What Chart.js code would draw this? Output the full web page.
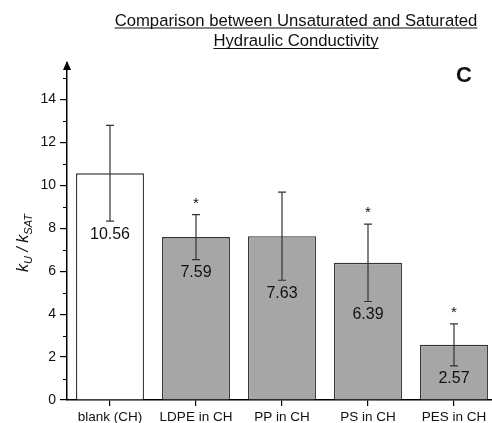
<!DOCTYPE html>
<html>
<head>
<meta charset="utf-8">
<script src="https://cdn.jsdelivr.net/npm/chart.js@4/dist/chart.umd.min.js"></script>
<style>
  html, body { margin: 0; padding: 0; background: #fff; overflow: hidden; }
  #wrap { width: 500px; height: 423px; }
</style>
</head>
<body>
<div id="wrap"><canvas id="chart" width="500" height="423"></canvas></div>
<script>
// ─── Data ─────────────────────────────────────────────────────────────────────
const categories = ['blank (CH)', 'LDPE in CH', 'PP in CH', 'PS in CH', 'PES in CH'];
const ratios = [10.56, 7.59, 7.63, 6.39, 2.57];
const errors = [2.23, 1.05, 2.05, 1.80, 0.98];
const significant = [false, true, false, true, true];
const yTicks = [0, 2, 4, 6, 8, 10, 12, 14];
const yMinorTicks = [1, 3, 5, 7, 9, 11, 13, 15];

const FONT = 'Arial, "Liberation Sans", sans-serif';
const INK = '#111';

// ─── Error bars, value labels, asterisks ──────────────────────────────────────
const barExtras = {
  id: 'barExtras',
  afterDatasetsDraw(chart) {
    const ctx = chart.ctx;
    const x = chart.scales.x, y = chart.scales.y;
    ctx.save();
    ratios.forEach((v, i) => {
      const cx = x.getPixelForValue(i);
      const hi = y.getPixelForValue(v + errors[i]);
      const lo = y.getPixelForValue(v - errors[i]);
      ctx.strokeStyle = '#333';
      ctx.lineWidth = 1.2;
      ctx.beginPath();
      ctx.moveTo(cx, hi); ctx.lineTo(cx, lo);
      ctx.moveTo(cx - 4, hi); ctx.lineTo(cx + 4, hi);
      ctx.moveTo(cx - 4, lo); ctx.lineTo(cx + 4, lo);
      ctx.stroke();

      ctx.fillStyle = INK;
      ctx.textAlign = 'center';
      ctx.textBaseline = 'middle';
      ctx.font = '16px ' + FONT;
      ctx.fillText(v.toFixed(2), cx, lo + 13);

      if (significant[i]) {
        ctx.textBaseline = 'alphabetic';
        ctx.font = '15px ' + FONT;
        ctx.fillText('*', cx, hi - 7);
      }
    });
    ctx.restore();
  }
};

// ─── Axis decorations: minor ticks, arrow, titles ─────────────────────────────
const decorations = {
  id: 'decorations',
  afterDraw(chart) {
    const ctx = chart.ctx;
    const y = chart.scales.y;
    const area = chart.chartArea;
    const ax = area.left;
    ctx.save();
    ctx.strokeStyle = '#000';
    ctx.lineWidth = 1.2;
    ctx.beginPath();
    yMinorTicks.forEach(v => {
      const py = Math.round(y.getPixelForValue(v)) + 0.5;
      ctx.moveTo(ax - 4, py); ctx.lineTo(ax, py);
    });
    ctx.stroke();

    // arrow on top of the y axis
    ctx.fillStyle = '#000';
    ctx.beginPath();
    ctx.moveTo(ax, area.top - 2);
    ctx.lineTo(ax - 4, area.top + 7);
    ctx.lineTo(ax + 4, area.top + 7);
    ctx.closePath();
    ctx.fill();

    // title, underlined
    ctx.fillStyle = INK;
    ctx.strokeStyle = INK;
    ctx.lineWidth = 1;
    ctx.font = '16.7px ' + FONT;
    ctx.textAlign = 'center';
    ctx.textBaseline = 'alphabetic';
    [['Comparison between Unsaturated and Saturated', 25.5], ['Hydraulic Conductivity', 46]].forEach(([t, by]) => {
      ctx.fillText(t, 296, by);
      const w = ctx.measureText(t).width;
      ctx.beginPath();
      ctx.moveTo(296 - w / 2, by + 2.5); ctx.lineTo(296 + w / 2, by + 2.5);
      ctx.stroke();
    });

    // panel letter
    ctx.font = 'bold 22px ' + FONT;
    ctx.textBaseline = 'middle';
    ctx.fillText('C', 464, 76);

    // y axis title: k_U / k_SAT
    const parts = [
      { t: 'k', f: 'italic 16px ' + FONT, dy: 0 },
      { t: 'U', f: 'italic 11px ' + FONT, dy: 4 },
      { t: ' / ', f: 'italic 16px ' + FONT, dy: 0 },
      { t: 'k', f: 'italic 16px ' + FONT, dy: 0 },
      { t: 'SAT', f: 'italic 11px ' + FONT, dy: 4 }
    ];
    let total = 0;
    parts.forEach(p => { ctx.font = p.f; p.w = ctx.measureText(p.t).width; total += p.w; });
    ctx.translate(23, 243);
    ctx.rotate(-Math.PI / 2);
    ctx.textAlign = 'left';
    ctx.textBaseline = 'alphabetic';
    let px = -total / 2;
    parts.forEach(p => {
      ctx.font = p.f;
      ctx.fillText(p.t, px, 5 + p.dy);
      px += p.w;
    });
    ctx.restore();
  }
};

new Chart(document.getElementById('chart'), {
  type: 'bar',
  data: {
    labels: categories,
    datasets: [{
      data: ratios,
      backgroundColor: ratios.map((v, i) => i === 0 ? '#ffffff' : '#a6a6a6'),
      borderColor: '#333',
      borderWidth: 1.3,
      categoryPercentage: 1,
      barPercentage: 0.79
    }]
  },
  options: {
    responsive: false,
    animation: false,
    devicePixelRatio: 1,
    layout: { padding: { top: 63, right: 3, left: 0, bottom: 0 } },
    plugins: { legend: { display: false }, tooltip: { enabled: false } },
    scales: {
      x: {
        afterFit(scale) { scale.height = 23; },
        grid: { offset: false, drawOnChartArea: false, drawTicks: true, tickLength: 6, color: '#000', lineWidth: 1.2 },
        border: { display: true, color: '#000', width: 1.5 },
        ticks: { color: INK, font: { family: FONT, size: 13.5 }, padding: 3, maxRotation: 0, autoSkip: false }
      },
      y: {
        min: 0,
        max: 15.7,
        afterFit(scale) { scale.width = 67; },
        afterBuildTicks(scale) { scale.ticks = yTicks.map(v => ({ value: v })); },
        grid: { drawOnChartArea: false, drawTicks: true, tickLength: 7, color: '#000', lineWidth: 1.2 },
        border: { display: true, color: '#000', width: 1.5 },
        ticks: { color: INK, font: { family: FONT, size: 14 }, padding: 4 }
      }
    }
  },
  plugins: [barExtras, decorations]
});
</script>
</body>
</html>
